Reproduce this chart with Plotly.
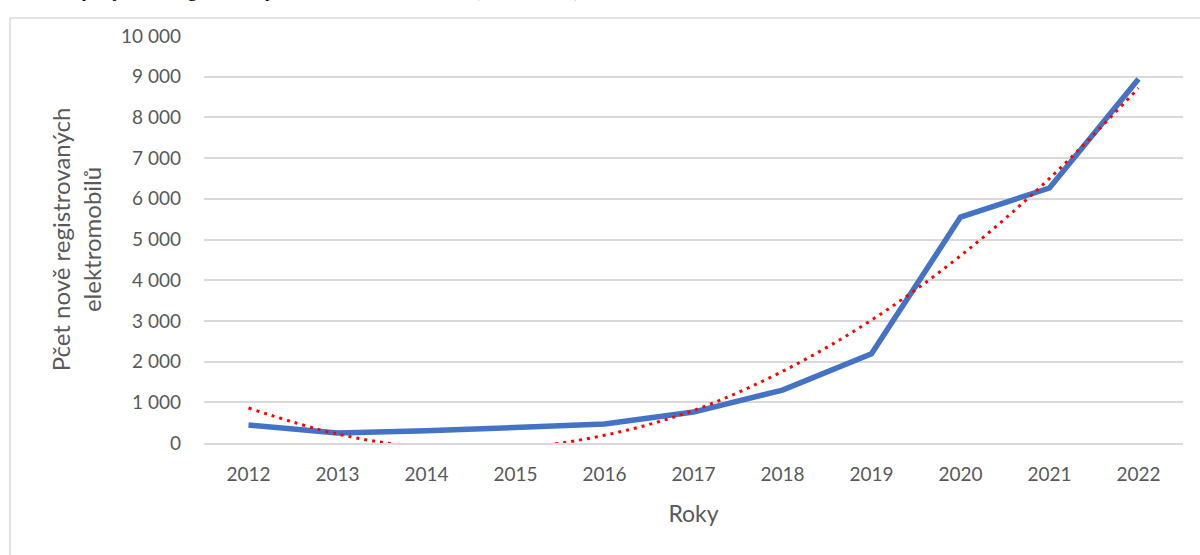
import plotly.graph_objects as go

years = ["2012", "2013", "2014", "2015", "2016", "2017", "2018", "2019", "2020", "2021", "2022"]
registrations = [440, 245, 300, 380, 465, 760, 1300, 2190, 5550, 6265, 8945]
trend = [860, 220, -110, -120, 190, 800, 1760, 3020, 4600, 6500, 8720]
y_ticks = [0, 1000, 2000, 3000, 4000, 5000, 6000, 7000, 8000, 9000, 10000]

caption = "Graf 1: Vývoj nově registrovaných elektromobilů v ČR (2012–2022)"
y_title = "Pčet nově registrovaných<br>elektromobilů"
x_title = "Roky"

W, H = 1200, 555
L, R, T, B = 204, 17, 36, 112
PW, PH = W - L - R, H - T - B

def px_x(p):
    return (p - L) / PW

def px_y(p):
    return 1 - (p - T) / PH

fig = go.Figure()
fig.add_trace(go.Scatter(
    x=years, y=registrations, mode="lines",
    line=dict(color="#4472C4", width=5.5),
    showlegend=False, hoverinfo="skip",
))
fig.add_trace(go.Scatter(
    x=years, y=trend, mode="lines",
    line=dict(color="#FF0000", width=3, dash="3px,5px", shape="spline", smoothing=1.0),
    showlegend=False, hoverinfo="skip",
))

font_family = "Lato, 'Open Sans', sans-serif"
gray = "#595959"

fig.update_layout(
    width=W, height=H,
    margin=dict(l=L, r=R, t=T, b=B),
    paper_bgcolor="white", plot_bgcolor="white",
    separators=", ",
    font=dict(family=font_family, color=gray, size=19),
    xaxis=dict(
        type="category", range=[-0.5, 10.5], automargin=False,
        showgrid=False, showline=True, linecolor="#d9d9d9", linewidth=1.5,
        ticks="", tickfont=dict(size=19, color=gray),
        ticklabelstandoff=13,
        title=dict(text=x_title, font=dict(size=23, color=gray), standoff=22),
        zeroline=False, fixedrange=True,
    ),
    yaxis=dict(
        range=[0, 10000], tickvals=y_ticks, tickformat=",d", automargin=False,
        showgrid=True, gridcolor="#d9d9d9", gridwidth=1.5,
        zeroline=False, showline=False, ticks="",
        tickfont=dict(size=19, color=gray),
        ticklabelstandoff=22,
        title=dict(text=y_title, font=dict(size=24, color=gray), standoff=12),
        fixedrange=True,
    ),
    shapes=[dict(
        type="rect", xref="paper", yref="paper",
        x0=px_x(10), x1=px_x(1210), y0=px_y(570), y1=px_y(18),
        line=dict(color="#d9d9d9", width=1.5), fillcolor="rgba(0,0,0,0)",
        layer="below",
    )],
    annotations=[dict(
        text=caption, xref="paper", yref="paper",
        x=px_x(0), y=px_y(3), xanchor="left", yanchor="bottom",
        showarrow=False, font=dict(family="Liberation Serif", size=21, color="black"),
    )],
)

fig.write_html(
    "out.html",
    config={"displayModeBar": False},
    post_script="document.body.style.margin='0';document.body.style.overflow='hidden';",
)
